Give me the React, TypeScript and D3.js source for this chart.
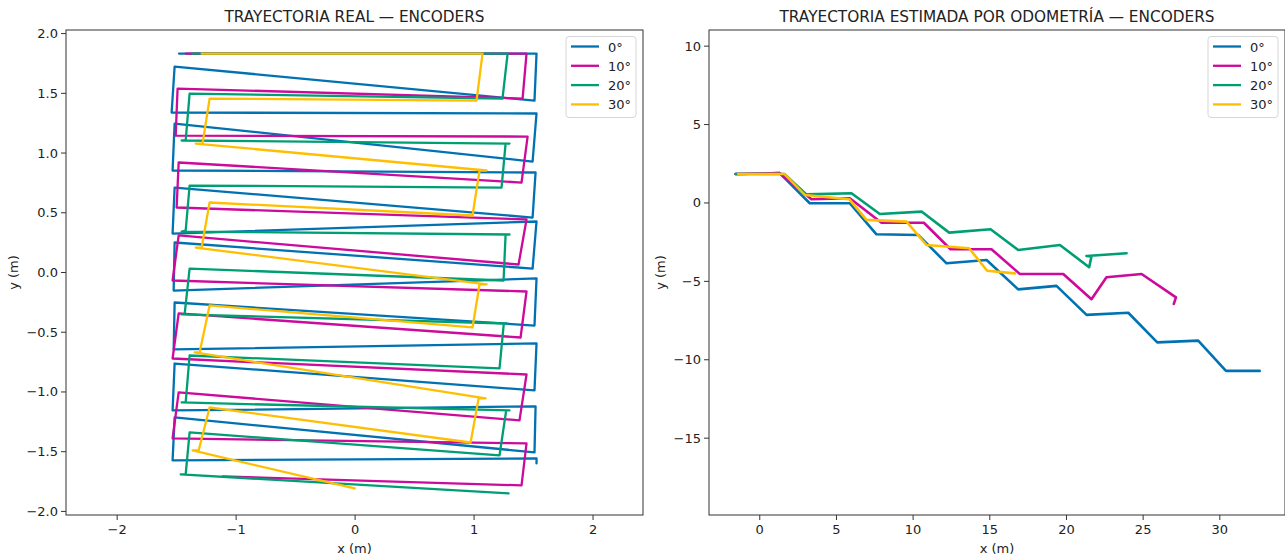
import * as d3 from "d3";

// real trajectory (m), one array of [x, y] per heading
const real0 = [
  [-1.48, 1.833], [1.525, 1.833], [1.508, 1.439], [-1.517, 1.724], [-1.542, 1.339], [1.525, 1.331],
  [1.492, 0.929], [-1.517, 1.247], [-1.534, 0.854], [1.517, 0.837], [1.492, 0.46], [-1.517, 0.711],
  [-1.534, 0.326], [1.525, 0.427], [1.492, 0.033], [-1.517, 0.251], [-1.525, -0.151], [1.525, -0.05],
  [1.508, -0.444], [-1.517, -0.251], [-1.525, -0.644], [1.525, -0.594], [1.508, -0.987], [-1.517, -0.762],
  [-1.534, -1.155], [1.517, -1.121], [1.508, -1.506], [-1.517, -1.213], [-1.534, -1.573], [1.525, -1.556],
  [1.525, -1.598],
];
const real10 = [
  [-1.424, 1.833], [1.441, 1.833], [1.408, 1.456], [-1.492, 1.54], [-1.508, 1.146], [1.45, 1.138],
  [1.399, 0.753], [-1.483, 0.921], [-1.5, 0.544], [1.441, 0.444], [1.374, 0.067], [-1.483, 0.31],
  [-1.534, -0.067], [1.441, -0.159], [1.391, -0.544], [-1.483, -0.343], [-1.534, -0.72], [1.441, -0.854],
  [1.382, -1.238], [-1.483, -1.004], [-1.534, -1.389], [1.441, -1.431], [1.399, -1.782], [-1.113, -1.707],
];
const real20 = [
  [-1.366, 1.833], [1.282, 1.833], [1.239, 1.456], [-1.391, 1.498], [-1.424, 1.105], [-1.458, 1.105],
  [1.298, 1.079], [1.265, 1.079], [1.231, 0.711], [-1.391, 0.728], [-1.424, 0.351], [-1.458, 0.343],
  [1.298, 0.318], [1.265, 0.318], [1.248, -0.067], [-1.391, 0.033], [-1.433, -0.351], [-1.458, -0.351],
  [1.273, -0.427], [1.25, -0.427], [1.214, -0.803], [-1.391, -0.695], [-1.424, -1.088], [-1.458, -1.088],
  [1.298, -1.155], [1.27, -1.155], [1.214, -1.531], [-1.391, -1.339], [-1.424, -1.69], [-1.466, -1.69],
  [1.29, -1.849],
];
const real30 = [
  [-1.29, 1.833], [1.071, 1.833], [1.021, 1.439], [-1.223, 1.456], [-1.282, 1.079], [-1.34, 1.079],
  [1.105, 0.854], [1.046, 0.854], [0.987, 0.477], [-1.223, 0.586], [-1.29, 0.209], [-1.34, 0.209],
  [1.105, -0.1], [1.046, -0.1], [0.987, -0.46], [-1.223, -0.276], [-1.307, -0.669], [-1.349, -0.669],
  [1.097, -1.054], [1.038, -1.054], [0.971, -1.423], [-1.223, -1.13], [-1.315, -1.49], [-1.366, -1.49],
  [-0.004, -1.808],
];

// odometry estimate (m)
const odo0 = [
  [-1.57, 1.85], [1.3, 1.9], [3.26, -0.02], [5.87, -0.02], [7.61, -2.0], [10.33, -2.04], [12.18, -3.85],
  [14.79, -3.64], [16.85, -5.51], [19.35, -5.29], [21.31, -7.14], [24.03, -7.0], [25.92, -8.89],
  [28.59, -8.78], [30.4, -10.71], [32.6, -10.71],
];
const odo10 = [
  [-1.57, 1.85], [1.3, 1.9], [3.37, 0.24], [5.87, 0.3], [7.94, -1.26], [10.7, -1.26], [12.44, -2.95],
  [15.11, -2.95], [16.96, -4.53], [19.79, -4.53], [21.63, -6.14], [22.61, -4.74], [24.9, -4.53],
  [27.14, -6.02], [27.0, -6.44],
];
const odo20 = [
  [-1.57, 1.85], [1.6, 1.85], [3.04, 0.55], [5.98, 0.62], [7.83, -0.7], [10.55, -0.55], [12.35, -1.89],
  [15.05, -1.68], [16.85, -3.0], [19.57, -2.68], [21.48, -4.1], [21.63, -3.42], [21.3, -3.38], [23.92, -3.21],
];
const odo30 = [
  [-1.4, 1.85], [1.6, 1.85], [2.94, 0.51], [5.83, 0.24], [6.96, -1.08], [9.57, -1.19], [10.87, -2.68],
  [13.65, -2.89], [14.83, -4.32], [16.63, -4.49],
];

const labels = ["0°", "10°", "20°", "30°"];
const colors = ["#0072B2", "#CC0A9C", "#009E73", "#FFBF00"];

const leftXTicks = [-2, -1, 0, 1, 2];
const leftYTicks = [-2, -1.5, -1, -0.5, 0, 0.5, 1, 1.5, 2];
const rightXTicks = [0, 5, 10, 15, 20, 25, 30];
const rightYTicks = [-15, -10, -5, 0, 5, 10];

const font = "DejaVu Sans, sans-serif";
const fmt = (v: number, dec: number) => v.toFixed(dec).replace("-", "\u2212");

function Panel({ x0, x1, xDomain, yDomain, series, xTicks, yTicks, yDec, title, lw }: any) {
  const top = 30;
  const bottom = 515;
  const x = d3.scaleLinear().domain(xDomain).range([x0, x1]);
  const y = d3.scaleLinear().domain(yDomain).range([bottom, top]);
  const line = d3.line<number[]>().x((d) => x(d[0])).y((d) => y(d[1]));
  const clipId = `clip-${x0}`;
  const lx = x1 - 77;
  return (
    <g fontFamily={font}>
      <defs>
        <clipPath id={clipId}>
          <rect x={x0} y={top} width={x1 - x0} height={bottom - top} />
        </clipPath>
      </defs>
      <text x={(x0 + x1) / 2} y={22} textAnchor="middle" fontSize={15.3} fill="#222">{title}</text>
      <g clipPath={`url(#${clipId})`}>
        {series.map((s: number[][], i: number) => (
          <path key={i} d={line(s) ?? ""} fill="none" stroke={colors[i]} strokeWidth={lw} strokeLinejoin="round" strokeLinecap="round" />
        ))}
      </g>
      <rect x={x0} y={top} width={x1 - x0} height={bottom - top} fill="none" stroke="#333" strokeWidth={1} />
      {xTicks.map((t: number) => (
        <g key={t}>
          <line x1={x(t)} x2={x(t)} y1={bottom} y2={bottom + 5} stroke="#333" />
          <text x={x(t)} y={bottom + 18.5} textAnchor="middle" fontSize={13} fill="#222">{fmt(t, 0)}</text>
        </g>
      ))}
      {yTicks.map((t: number) => (
        <g key={t}>
          <line x1={x0 - 5} x2={x0} y1={y(t)} y2={y(t)} stroke="#333" />
          <text x={x0 - 8} y={y(t) + 4.5} textAnchor="end" fontSize={13} fill="#222">{fmt(t, yDec)}</text>
        </g>
      ))}
      <text x={(x0 + x1) / 2} y={553} textAnchor="middle" fontSize={13} fill="#222">x (m)</text>
      <text transform={`translate(${x0 - (yDec ? 48 : 44)},${(top + bottom) / 2}) rotate(-90)`} textAnchor="middle" fontSize={13} fill="#222">y (m)</text>
      <rect x={lx} y={36.5} width={70} height={81} rx={3} fill="#fff" fillOpacity={0.8} stroke="#d6d6d6" />
      {labels.map((l, i) => (
        <g key={l}>
          <line x1={lx + 5} x2={lx + 33} y1={46.5 + i * 19.3} y2={46.5 + i * 19.3} stroke={colors[i]} strokeWidth={2.3} />
          <text x={lx + 42} y={51.5 + i * 19.3} fontSize={13} fill="#222">{l}</text>
        </g>
      ))}
    </g>
  );
}

export default function App() {
  return (
    <svg width={1285} height={558} style={{ position: "absolute", left: 0, top: 0, background: "#fff" }}>
      <Panel
        x0={66}
        x1={643}
        xDomain={[-2.43, 2.42]}
        yDomain={[-2.03, 2.03]}
        series={[real0, real10, real20, real30]}
        xTicks={leftXTicks}
        yTicks={leftYTicks}
        yDec={1}
        lw={2.3}
        title="TRAYECTORIA REAL — ENCODERS"
      />
      <Panel
        x0={709}
        x1={1285}
        xDomain={[-3.31, 34.25]}
        yDomain={[-19.9, 11.03]}
        series={[odo0, odo10, odo20, odo30]}
        xTicks={rightXTicks}
        yTicks={rightYTicks}
        yDec={0}
        lw={2.6}
        title="TRAYECTORIA ESTIMADA POR ODOMETRÍA — ENCODERS"
      />
    </svg>
  );
}
